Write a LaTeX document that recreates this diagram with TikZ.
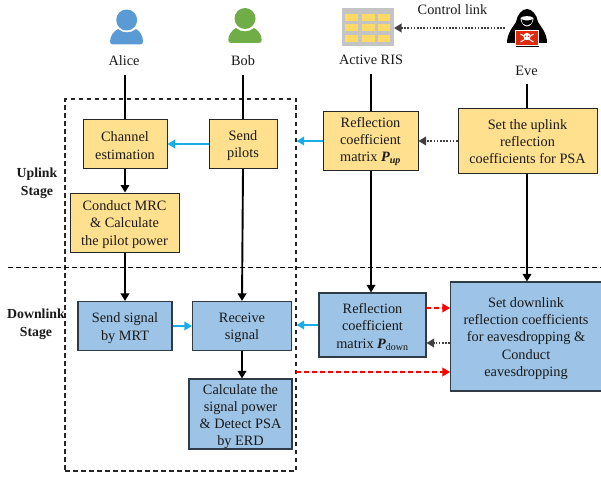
\documentclass[tikz,border=0pt]{standalone}
\usepackage{fontspec}
\setmainfont{Liberation Serif}
\usetikzlibrary{arrows.meta,calc}
\definecolor{boxyellow}{HTML}{FFE08F}
\definecolor{boxblue}{HTML}{9DC3E6}
\definecolor{linkblue}{HTML}{19ADE8}
\definecolor{dotgrey}{HTML}{404040}
\definecolor{risgrey}{HTML}{C4C4C4}
\definecolor{cellyellow}{HTML}{FFD965}
\definecolor{aliceblue}{HTML}{5B9BD5}
\definecolor{bobgreen}{HTML}{70AD47}
\definecolor{laptopred}{HTML}{DD2A10}
\newcommand{\boldP}{{\bfseries\itshape P}}
\newcommand{\tstrut}[1]{\rule{0pt}{#1pt}}
\tikzset{
  base/.style={font=\fontsize{14.3}{17.3}\selectfont,align=center,inner sep=0pt,text=black!90},
  ybox/.style={base,draw=black!85,line width=1pt,fill=boxyellow},
  bbox/.style={base,draw=black!70!boxblue,line width=1.1pt,fill=boxblue},
  lbl/.style={base},
  stagelbl/.style={base,font=\fontsize{13.8}{17.8}\selectfont\bfseries},
  vline/.style={line width=1.9pt,draw=black},
  varrow/.style={vline,-{Triangle[length=7.5pt,width=8.5pt]}},
  bluearrow/.style={line width=1.9pt,draw=linkblue,-{Triangle[length=7.5pt,width=8.5pt]}},
  dotarrow/.style={line width=1.8pt,draw=dotgrey,dash pattern=on 1.6pt off 1.6pt,-{Triangle[length=7.5pt,width=8.5pt]}},
  redarrow/.style={line width=1.8pt,draw=red,dash pattern=on 5pt off 3pt,-{Triangle[length=7.5pt,width=8.5pt]}},
  framebox/.style={draw=black!85,line width=1.1pt,dash pattern=on 4.5pt off 3.5pt,inner sep=0pt},
  sepline/.style={draw=black,line width=1pt,dash pattern=on 4.5pt off 3.5pt},
}
\begin{document}
\begin{tikzpicture}[x=1pt,y=-1pt]
\useasboundingbox (0,0) rectangle (601,476);
% stage frame and separator
\node[framebox,minimum width=231pt,minimum height=372pt] (frame) at (180.5,285) {};
\coordinate (sepL) at (8,267);
\coordinate (sepR) at (601,267);
\draw[sepline] (sepL) -- (sepR);
% icons
\fill[aliceblue] (126.7,20) circle (10.5);
\fill[aliceblue] (110,41.5) .. controls (110,36) and (114,31) .. (118,29) .. controls (123,33.5) and (131,33.5) .. (136,29) .. controls (140,31) and (143,36) .. (143,41.5) .. controls (143,43.5) and (142,44.5) .. (140,44.5) -- (113,44.5) .. controls (111,44.5) and (110,43.5) .. (110,41.5) -- cycle;
\fill[bobgreen] (245,18.5) circle (10.5);
\fill[bobgreen] (228.3,40) .. controls (228.3,35) and (232,30) .. (236,28) .. controls (241,32.5) and (249,32.5) .. (254,28) .. controls (258,30) and (261.7,35) .. (261.7,40) .. controls (261.7,42) and (260.7,43) .. (258.7,43) -- (231.3,43) .. controls (229.3,43) and (228.3,42) .. (228.3,40) -- cycle;
% RIS icon
\fill[risgrey] (342,8) rectangle (394,46);
\foreach \cx in {345,362,377.5}{
  \foreach \cy in {14,24,35}{
    \fill[cellyellow] (\cx,\cy) rectangle ++(12.5,7.5);
  }
}
% Eve icon
\fill[black] (507,43) .. controls (507,33) and (513,27) .. (516,22) .. controls (517,15) and (522,9) .. (527,9) .. controls (532,9) and (537,15) .. (538,22) .. controls (541,27) and (547,33) .. (547,43) -- (538,43) -- (516,43) -- cycle;
\fill[white] (520.5,18) .. controls (522,15.5) and (532,15.5) .. (533.5,18) .. controls (533.5,23) and (530,26.5) .. (527,26.5) .. controls (524,26.5) and (520.5,23) .. (520.5,18) -- cycle;
\fill[black] (521.5,19) .. controls (523,21) and (531,21) .. (532.5,19) .. controls (532.5,23) and (530,25.5) .. (527,25.5) .. controls (524,25.5) and (521.5,23) .. (521.5,19) -- cycle;
\fill[laptopred,draw=white,line width=0.5pt] (515.5,30.5) rectangle (538.5,45);
\fill[black] (515.5,46) rectangle (538.5,47);
\draw[white,line width=1pt] (520.5,34) -- (533.5,42) (533.5,34) -- (520.5,42);
\fill[white] (527,36.5) circle (3.6);
\fill[laptopred] (525.6,36.3) circle (0.8) (528.4,36.3) circle (0.8);
% labels
\node[lbl] (alice) at (124,61) {Alice};
\node[lbl] (bob) at (243,61) {Bob};
\node[lbl] (ris) at (371,60) {Active RIS};
\node[lbl] (eve) at (526.5,70.5) {Eve};
\node[lbl] (ctrl) at (452.5,10) {Control link};
\node[stagelbl] (up) at (37,183) {Uplink\\Stage};
\node[stagelbl] (down) at (36,324) {Downlink\\Stage};
% boxes
\node[ybox,minimum width=84pt,minimum height=49pt] (chan) at (125,144) {\tstrut{13}Channel\\estimation};
\node[ybox,minimum width=68pt,minimum height=49pt] (pilots) at (243,144) {\tstrut{13}Send\\pilots};
\node[ybox,minimum width=109pt,minimum height=59pt] (mrc) at (124.5,222.5) {\tstrut{14}Conduct MRC\\\& Calculate\\the pilot power};
\node[ybox,minimum width=95pt,minimum height=59pt] (pup) at (370.5,141) {\tstrut{11}Reflection\\coefficient\\matrix \boldP\textsubscript{\bfseries\itshape up}};
\node[ybox,minimum width=139pt,minimum height=65pt] (setup) at (527.5,141) {\tstrut{11}Set the uplink\\reflection\\coefficients for PSA};
\node[bbox,minimum width=94pt,minimum height=49pt] (mrt) at (125,326) {\tstrut{14}Send signal\\by MRT};
\node[bbox,minimum width=99pt,minimum height=49pt] (recv) at (242,326) {\tstrut{13.5}Receive\\signal};
\node[bbox,minimum width=103pt,minimum height=68pt] (calc) at (240.5,414) {\tstrut{15}Calculate the\\signal power\\\& Detect PSA\\by ERD};
\node[bbox,minimum width=107pt,minimum height=64pt] (pdown) at (372.5,325) {\tstrut{14}Reflection\\coefficient\\matrix \boldP\textsubscript{down}};
\node[bbox,minimum width=151pt,minimum height=109pt] (setdown) at (526,336.5) {\tstrut{14}Set downlink\\reflection coefficients\\for eavesdropping \&\\Conduct\\eavesdropping};
% vertical connectors
\coordinate (aliceS) at (125,75);
\coordinate (bobS) at (243,75);
\coordinate (risS) at (371,74);
\coordinate (eveS) at (527,84);
\draw[vline] (aliceS) -- (aliceS |- chan.north);
\draw[vline] (bobS) -- (bobS |- pilots.north);
\draw[vline] (risS) -- (risS |- pup.north);
\draw[vline] (eveS) -- (eveS |- setup.north);
\draw[varrow] (chan.south) -- (chan.south |- mrc.north);
\draw[varrow] (mrc.south -| aliceS) -- (aliceS |- mrt.north);
\draw[varrow] (pilots.south) -- (recv.north);
\draw[varrow] (recv.south) -- (calc.north -| recv.south);
\draw[varrow] (pup.south -| risS) -- (risS |- pdown.north);
\draw[varrow] (setup.south -| eveS) -- (eveS |- setdown.north);
% horizontal connectors
\draw[bluearrow] (pilots.west) -- (pilots.west -| chan.east);
\draw[bluearrow] (pup.west) -- (pup.west -| frame.east);
\draw[bluearrow] (mrt.east) -- (mrt.east -| recv.west);
\draw[bluearrow] (pdown.west) -- (pdown.west -| frame.east);
\coordinate (ctrlEnd) at (505,28);
\draw[dotarrow] (ctrlEnd) -- (394,28);
\draw[dotarrow] (setup.west |- pup.east) -- (pup.east);
\coordinate (dotD) at (450,343);
\draw[dotarrow] (dotD) -- (dotD -| pdown.east);
\coordinate (redA) at (426,308);
\draw[redarrow] (redA) -- (redA -| setdown.west);
\coordinate (redB) at (296,372);
\draw[redarrow] (redB) -- (redB -| setdown.west);
\end{tikzpicture}
\end{document}
